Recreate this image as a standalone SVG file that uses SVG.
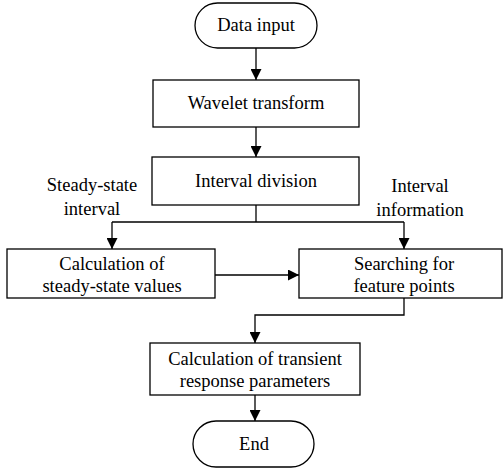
<svg xmlns="http://www.w3.org/2000/svg" width="503" height="472" viewBox="0 0 503 472">
  <style>
    .shape { fill: #ffffff; stroke: #000000; stroke-width: 1.3; }
    .lbl { font-family: "Liberation Serif", "Times New Roman", serif; font-size: 18.5px; fill: #000000; text-anchor: middle; }
    .wire { fill: none; stroke: #000000; stroke-width: 1.3; }
  </style>
  <defs>
    <marker id="arrow" viewBox="0 0 11 11" refX="11" refY="5.5" markerWidth="11" markerHeight="11" markerUnits="userSpaceOnUse" orient="auto">
      <path d="M0,0 L11,5.5 L0,11 Z" fill="#000000"/>
    </marker>
  </defs>
  <rect width="503" height="472" fill="#ffffff"/>

  <!-- flow lines -->
  <g id="connectors">
    <path class="wire" d="M256,48 V80" marker-end="url(#arrow)"/>
    <path class="wire" d="M256,127 V157" marker-end="url(#arrow)"/>
    <path class="wire" d="M256,205 V222"/>
    <path class="wire" d="M112,222 H404"/>
    <path class="wire" d="M112,222 V249" marker-end="url(#arrow)"/>
    <path class="wire" d="M404,222 V249" marker-end="url(#arrow)"/>
    <path class="wire" d="M215,275 H299" marker-end="url(#arrow)"/>
    <path class="wire" d="M404,298 V315 H255 V343" marker-end="url(#arrow)"/>
    <path class="wire" d="M255,395 V421" marker-end="url(#arrow)"/>
  </g>

  <g id="data-input">
    <rect class="shape" x="195" y="3" width="122" height="45" rx="22.5" ry="22.5"/>
    <text class="lbl" x="256" y="31">Data input</text>
  </g>

  <g id="wavelet-transform">
    <rect class="shape" x="153" y="80" width="206" height="47"/>
    <text class="lbl" x="256" y="109">Wavelet transform</text>
  </g>

  <g id="interval-division">
    <rect class="shape" x="152" y="157" width="207" height="48"/>
    <text class="lbl" x="256" y="187">Interval division</text>
  </g>

  <g id="label-steady-interval">
    <text class="lbl" x="92" y="191">Steady-state</text>
    <text class="lbl" x="92" y="215">interval</text>
  </g>

  <g id="label-interval-info">
    <text class="lbl" x="420" y="192">Interval</text>
    <text class="lbl" x="420" y="216">information</text>
  </g>

  <g id="steady-values">
    <rect class="shape" x="7" y="249" width="208" height="49"/>
    <text class="lbl" x="112" y="270">Calculation of</text>
    <text class="lbl" x="112" y="292">steady-state values</text>
  </g>

  <g id="feature-points">
    <rect class="shape" x="299" y="249" width="203" height="49"/>
    <text class="lbl" x="404" y="270">Searching for</text>
    <text class="lbl" x="404" y="292">feature points</text>
  </g>

  <g id="transient-parameters">
    <rect class="shape" x="150" y="343" width="210" height="52"/>
    <text class="lbl" x="255" y="365">Calculation of transient</text>
    <text class="lbl" x="255" y="387">response parameters</text>
  </g>

  <g id="end">
    <rect class="shape" x="193" y="421" width="121" height="46" rx="23" ry="23"/>
    <text class="lbl" x="254" y="450">End</text>
  </g>
</svg>
